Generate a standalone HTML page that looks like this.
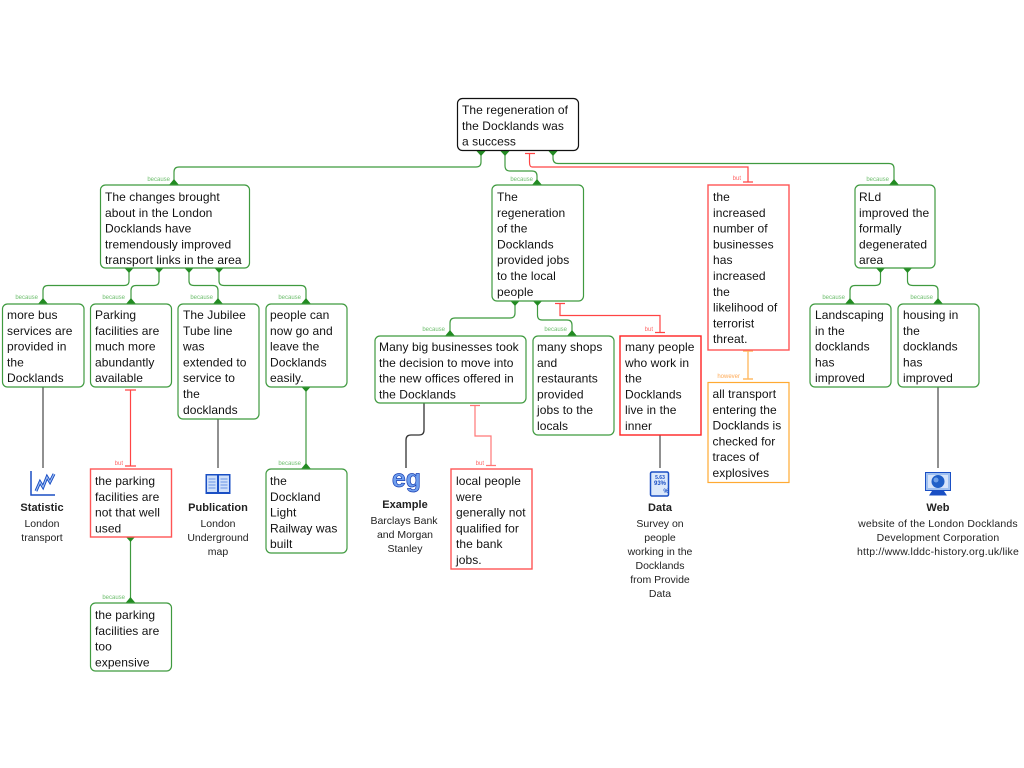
<!DOCTYPE html>
<html><head><meta charset="utf-8"><style>
html,body{margin:0;padding:0;background:#fff;width:1024px;height:768px;overflow:hidden}
svg{display:block}
text{font-family:"Liberation Sans",sans-serif}
.t{font-size:12px;fill:#111;letter-spacing:.07px}
.c{font-size:10.5px;fill:#222;text-anchor:middle}
.h{font-size:11px;font-weight:bold;fill:#222;text-anchor:middle;letter-spacing:.05px}
.l{font-size:6px;text-anchor:end}
.g{fill:#fff;stroke:#3f9a3f;stroke-width:1.2}
.r{fill:#fff;stroke:#f55;stroke-width:1.4}
.o{fill:#fff;stroke:#fa3;stroke-width:1.2}
.cg{fill:none;stroke:#3f9a3f;stroke-width:1.2}
.cr{fill:none;stroke:#f44;stroke-width:1.2}
.co{fill:none;stroke:#fb6;stroke-width:1.4}
.cb{fill:none;stroke:#555;stroke-width:1.3}
.a{fill:#228b22}
.lg{fill:#6fbf6f}.lr{fill:#f66}.lo{fill:#fa5}
</style></head><body>
<svg width="1024" height="768" viewBox="0 0 1024 768" xmlns="http://www.w3.org/2000/svg">
<!-- connectors -->
<path class="cg" d="M481 151V162Q481 167 476 167H179Q174 167 174 172V185"/>
<path class="cg" d="M505 151V166Q505 171 510 171H532Q537 171 537 176V185"/>
<path class="cg" d="M553 151V158Q553 163.500 558 163.500H889Q894 163.500 894 168.500V185"/>
<path class="cr" d="M529.500 154V162Q529.500 167 532 167H748V182M525 153.500H535M743 182H753"/>
<path class="cg" d="M129 268V281Q129 285.500 124 285.500H48Q43 285.500 43 290.500V304"/>
<path class="cg" d="M159 268V281Q159 285.500 154 285.500H136Q131 285.500 131 290.500V304"/>
<path class="cg" d="M189 268V281Q189 285.500 194 285.500H213Q218 285.500 218 290.500V304"/>
<path class="cg" d="M219 268V281Q219 285.500 224 285.500H301Q306 285.500 306 290.500V304"/>
<path class="cg" d="M515 301V313Q515 318 510 318H455Q450 318 450 323V336"/>
<path class="cg" d="M537.500 301V315Q537.500 320 542 320H567Q572 320 572 325V336"/>
<path class="cr" d="M560 304V315.500H660V332.500M555 303.500H565M655 332.500H665"/>
<path class="cg" d="M880.500 268V281Q880.500 285.500 875 285.500H855Q850 285.500 850 290.500V304"/>
<path class="cg" d="M907.500 268V281Q907.500 285.500 913 285.500H933Q938 285.500 938 290.500V304"/>
<path class="cb" d="M43 387V468M218 419V468M660 435V468M938 387V468"/>
<path class="cb" style="stroke:#333" d="M424 403V430Q424 435 419 435H411Q406 435 406 440V468"/>
<path class="cr" d="M130.500 390V466M125 390H136M125 466H136"/>
<path class="cg" d="M130.500 537V603"/>
<path class="cg" d="M306 387V469"/>
<path class="cr" style="stroke:#f77" d="M475 406V436H491V465.500M470 405.500H480M486 465.500H496"/>
<path class="co" d="M748 351V379M743 351H753M743 379H753"/>
<!-- arrowheads -->
<g class="a">
<path d="M481 156L476.500 151H485.500ZM505 156L500.500 151H509.500ZM553 156L548.500 151H557.500Z"/>
<path d="M174 179L169 185H179ZM537 179L532 185H542ZM894 179L889 185H899Z"/>
<path d="M129 273L124.500 268H133.500ZM159 273L154.500 268H163.500ZM189 273L184.500 268H193.500ZM219 273L214.500 268H223.500Z"/>
<path d="M43 298L38 304H48ZM131 298L126 304H136ZM218 298L213 304H223ZM306 298L301 304H311Z"/>
<path d="M515 306L510.500 301H519.500ZM537.500 306L533 301H542Z"/>
<path d="M450 330L445 336H455ZM572 330L567 336H577Z"/>
<path d="M880.500 273L876 268H885ZM907.500 273L903 268H912Z"/>
<path d="M850 298L845 304H855ZM938 298L933 304H943Z"/>
<path d="M130.500 542L126 537H135ZM130.500 597L125.500 603H135.500Z"/>
<path d="M306 392L301.500 387H310.500ZM306 463L301 469H311Z"/>
</g>
<!-- connector labels -->
<g class="l lg">
<text x="170" y="181">because</text>
<text x="533" y="181">because</text>
<text x="889" y="181">because</text>
<text x="38" y="299">because</text>
<text x="125" y="299">because</text>
<text x="213" y="299">because</text>
<text x="301" y="299">because</text>
<text x="445" y="331">because</text>
<text x="567" y="331">because</text>
<text x="845" y="299">because</text>
<text x="933" y="299">because</text>
<text x="301" y="465">because</text>
<text x="125" y="599">because</text>
</g>
<g class="l lr">
<text x="741" y="180">but</text>
<text x="653" y="331">but</text>
<text x="123" y="465">but</text>
<text x="484" y="465">but</text>
</g>
<text class="l lo" x="740" y="378">however</text>
<!-- boxes -->
<rect x="457.500" y="98.500" width="121" height="52" rx="5" fill="#fff" stroke="#111" stroke-width="1.2"/>
<rect class="g" x="100.500" y="185" width="149" height="83" rx="5"/>
<rect class="g" x="492" y="185" width="91.500" height="116" rx="5"/>
<rect class="r" x="708" y="185" width="81" height="165"/>
<rect class="g" x="855" y="185" width="80" height="83" rx="5"/>
<rect class="g" x="2.500" y="304" width="81.500" height="83" rx="5"/>
<rect class="g" x="90.500" y="304" width="81" height="83" rx="5"/>
<rect class="g" x="178" y="304" width="81" height="115" rx="5"/>
<rect class="g" x="266" y="304" width="81" height="83" rx="5"/>
<rect class="g" x="375" y="336" width="151" height="67" rx="5"/>
<rect class="g" x="533" y="336" width="81" height="99" rx="5"/>
<rect class="r" style="stroke:#f22" x="620" y="336" width="81" height="99"/>
<rect class="g" x="810" y="304" width="81" height="83" rx="5"/>
<rect class="g" x="898" y="304" width="81" height="83" rx="5"/>
<rect class="r" x="90.500" y="469" width="81" height="68"/>
<rect class="g" x="266" y="469" width="81" height="84" rx="5"/>
<rect class="g" x="90.500" y="603" width="81" height="68" rx="5"/>
<rect class="r" x="451" y="469" width="81" height="100"/>
<rect class="o" x="708" y="382.500" width="81" height="100"/>
<!-- box text -->
<text class="t" x="462" y="114">The regeneration of<tspan x="462" dy="15.800">the Docklands was</tspan><tspan x="462" dy="15.800">a success</tspan></text>
<text class="t" x="105" y="201">The changes brought<tspan x="105" dy="15.800">about in the London</tspan><tspan x="105" dy="15.800">Docklands have</tspan><tspan x="105" dy="15.800">tremendously improved</tspan><tspan x="105" dy="15.800">transport links in the area</tspan></text>
<text class="t" x="497" y="201">The<tspan x="497" dy="15.800">regeneration</tspan><tspan x="497" dy="15.800">of the</tspan><tspan x="497" dy="15.800">Docklands</tspan><tspan x="497" dy="15.800">provided jobs</tspan><tspan x="497" dy="15.800">to the local</tspan><tspan x="497" dy="15.800">people</tspan></text>
<text class="t" x="713" y="201">the<tspan x="713" dy="15.800">increased</tspan><tspan x="713" dy="15.800">number of</tspan><tspan x="713" dy="15.800">businesses</tspan><tspan x="713" dy="15.800">has</tspan><tspan x="713" dy="15.800">increased</tspan><tspan x="713" dy="15.800">the</tspan><tspan x="713" dy="15.800">likelihood of</tspan><tspan x="713" dy="15.800">terrorist</tspan><tspan x="713" dy="15.800">threat.</tspan></text>
<text class="t" x="859" y="201">RLd<tspan x="859" dy="15.800">improved the</tspan><tspan x="859" dy="15.800">formally</tspan><tspan x="859" dy="15.800">degenerated</tspan><tspan x="859" dy="15.800">area</tspan></text>
<text class="t" x="7" y="319">more bus<tspan x="7" dy="15.800">services are</tspan><tspan x="7" dy="15.800">provided in</tspan><tspan x="7" dy="15.800">the</tspan><tspan x="7" dy="15.800">Docklands</tspan></text>
<text class="t" x="95" y="319">Parking<tspan x="95" dy="15.800">facilities are</tspan><tspan x="95" dy="15.800">much more</tspan><tspan x="95" dy="15.800">abundantly</tspan><tspan x="95" dy="15.800">available</tspan></text>
<text class="t" x="183" y="319">The Jubilee<tspan x="183" dy="15.800">Tube line</tspan><tspan x="183" dy="15.800">was</tspan><tspan x="183" dy="15.800">extended to</tspan><tspan x="183" dy="15.800">service to</tspan><tspan x="183" dy="15.800">the</tspan><tspan x="183" dy="15.800">docklands</tspan></text>
<text class="t" x="270" y="319">people can<tspan x="270" dy="15.800">now go and</tspan><tspan x="270" dy="15.800">leave the</tspan><tspan x="270" dy="15.800">Docklands</tspan><tspan x="270" dy="15.800">easily.</tspan></text>
<text class="t" x="379" y="351">Many big businesses took<tspan x="379" dy="15.800">the decision to move into</tspan><tspan x="379" dy="15.800">the new offices offered in</tspan><tspan x="379" dy="15.800">the Docklands</tspan></text>
<text class="t" x="537" y="351">many shops<tspan x="537" dy="15.800">and</tspan><tspan x="537" dy="15.800">restaurants</tspan><tspan x="537" dy="15.800">provided</tspan><tspan x="537" dy="15.800">jobs to the</tspan><tspan x="537" dy="15.800">locals</tspan></text>
<text class="t" x="625" y="351">many people<tspan x="625" dy="15.800">who work in</tspan><tspan x="625" dy="15.800">the</tspan><tspan x="625" dy="15.800">Docklands</tspan><tspan x="625" dy="15.800">live in the</tspan><tspan x="625" dy="15.800">inner</tspan></text>
<text class="t" x="815" y="319">Landscaping<tspan x="815" dy="15.800">in the</tspan><tspan x="815" dy="15.800">docklands</tspan><tspan x="815" dy="15.800">has</tspan><tspan x="815" dy="15.800">improved</tspan></text>
<text class="t" x="903" y="319">housing in<tspan x="903" dy="15.800">the</tspan><tspan x="903" dy="15.800">docklands</tspan><tspan x="903" dy="15.800">has</tspan><tspan x="903" dy="15.800">improved</tspan></text>
<text class="t" x="95" y="485">the parking<tspan x="95" dy="15.800">facilities are</tspan><tspan x="95" dy="15.800">not that well</tspan><tspan x="95" dy="15.800">used</tspan></text>
<text class="t" x="270" y="485">the<tspan x="270" dy="15.800">Dockland</tspan><tspan x="270" dy="15.800">Light</tspan><tspan x="270" dy="15.800">Railway was</tspan><tspan x="270" dy="15.800">built</tspan></text>
<text class="t" x="95" y="619">the parking<tspan x="95" dy="15.800">facilities are</tspan><tspan x="95" dy="15.800">too</tspan><tspan x="95" dy="15.800">expensive</tspan></text>
<text class="t" x="456" y="485">local people<tspan x="456" dy="15.800">were</tspan><tspan x="456" dy="15.800">generally not</tspan><tspan x="456" dy="15.800">qualified for</tspan><tspan x="456" dy="15.800">the bank</tspan><tspan x="456" dy="15.800">jobs.</tspan></text>
<text class="t" x="712.500" y="398">all transport<tspan x="712.500" dy="15.800">entering the</tspan><tspan x="712.500" dy="15.800">Docklands is</tspan><tspan x="712.500" dy="15.800">checked for</tspan><tspan x="712.500" dy="15.800">traces of</tspan><tspan x="712.500" dy="15.800">explosives</tspan></text>
<!-- icons -->
<g fill="none">
<path d="M31 471V495H55" stroke-width="1.5" stroke="#1a4fc4"/>
<path d="M36 491L40 482L43 487L47 477L50 482L54 474" stroke-width="3" stroke="#1a4fc4"/>
<path d="M36 491L40 482L43 487L47 477L50 482L54 474" stroke-width="1" stroke="#a9c6f5"/>
</g>
<g>
<path d="M205.500 474H230.500V494H205.500Z" fill="#1a4fc4"/>
<path d="M207 475.500H217V492H207ZM219 475.500H229V492H219Z" fill="#cfe0fa"/>
<path d="M208.500 479H215.500M208.500 482H215.500M208.500 485H215.500M208.500 488H215.500M220.500 479H227.500M220.500 482H227.500M220.500 485H227.500M220.500 488H227.500" stroke="#6a95e5"/>
</g>
<text x="406.500" y="487" style="font-size:25px;font-weight:bold;text-anchor:middle" fill="#6f9ff0" stroke="#1a3fb0" stroke-width=".7">eg</text>
<g>
<rect x="650.500" y="472" width="18" height="24" rx="1.500" fill="#dbe8fb" stroke="#1a4fc4" stroke-width="1.500"/>
<text x="660" y="479" style="font-size:5px;font-weight:bold;text-anchor:middle" fill="#1a4fc4">5.63</text>
<text x="660" y="485" style="font-size:6px;font-weight:bold;text-anchor:middle" fill="#1a4fc4">93%</text>
<text x="666" y="493" style="font-size:6px;font-weight:bold;text-anchor:middle" fill="#1a4fc4">%</text>
</g>
<g>
<rect x="925.500" y="472.500" width="25" height="18" fill="#9fc0f0" stroke="#1a4fc4"/>
<rect x="928" y="475" width="20" height="13" fill="#d6e4fa"/>
<circle cx="938" cy="481.500" r="6.500" fill="#1f5fc8"/>
<circle cx="936" cy="480" r="2.500" fill="#6d9fe8"/>
<path d="M932 491L929 495.500H947L944 491Z" fill="#1a4fc4"/>
</g>
<!-- resource labels -->
<text class="h" x="42" y="511">Statistic</text>
<text class="c" x="42" y="527">London</text>
<text class="c" x="42" y="541">transport</text>
<text class="h" x="218" y="511">Publication</text>
<text class="c" x="218" y="527">London</text>
<text class="c" x="218" y="541">Underground</text>
<text class="c" x="218" y="555">map</text>
<text class="h" x="405" y="508">Example</text>
<text class="c" x="404" y="524">Barclays Bank</text>
<text class="c" x="405" y="538">and Morgan</text>
<text class="c" x="405" y="552">Stanley</text>
<text class="h" x="660" y="511">Data</text>
<text class="c" x="660" y="527">Survey on</text>
<text class="c" x="660" y="541">people</text>
<text class="c" x="660" y="555">working in the</text>
<text class="c" x="660" y="569">Docklands</text>
<text class="c" x="660" y="583">from Provide</text>
<text class="c" x="660" y="597">Data</text>
<text class="h" x="938" y="511">Web</text>
<text class="c" x="938" y="527" style="letter-spacing:.16px">website of the London Docklands</text>
<text class="c" x="938" y="541" style="letter-spacing:.13px">Development Corporation</text>
<text class="c" x="938" y="555" style="letter-spacing:.2px">http://www.lddc-history.org.uk/like</text>
</svg>
</body></html>
